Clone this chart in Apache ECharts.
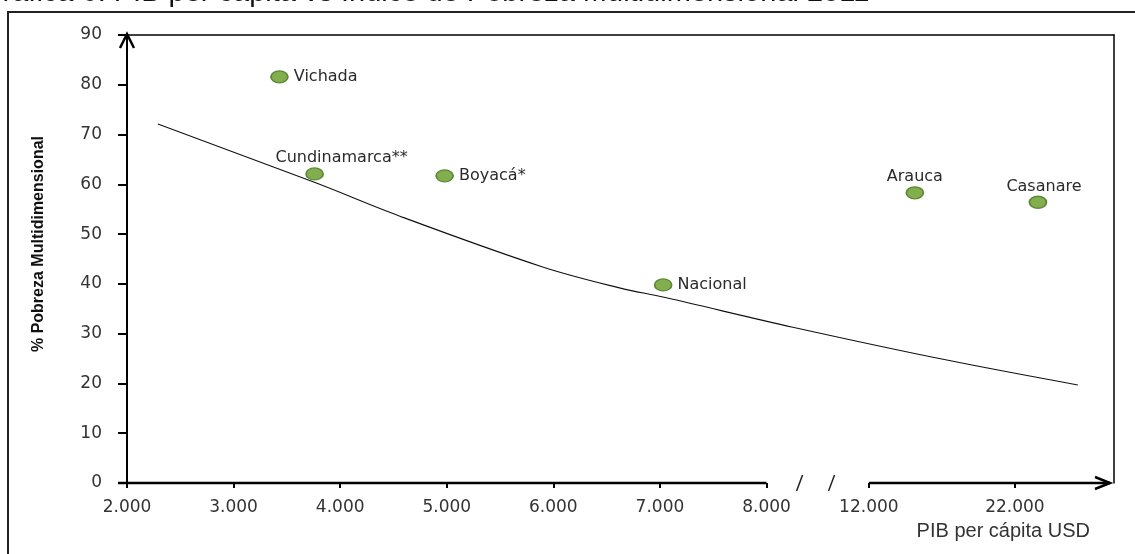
<!DOCTYPE html>
<html>
<head>
<meta charset="utf-8">
<script src="https://cdn.jsdelivr.net/npm/echarts@6/dist/echarts.min.js"></script>
<style>
html,body{margin:0;padding:0;background:#fff;}
#c{width:1135px;height:554px;}
</style>
</head>
<body>
<div id="c"></div>
<script>
// ---------- data ----------
const regions = ['Vichada', 'Cundinamarca**', 'Boyacá*', 'Nacional', 'Arauca', 'Casanare'];
const pibPerCapita = [3430, 3760, 4980, 7030, 15150, 23580];
const pobrezaMultidimensional = [81.6, 62.1, 61.7, 39.8, 58.3, 56.4];

const trendPib = [2290, 3770, 4560, 5900, 6620, 7040, 9030, 17340, 26310];
const trendPobreza = [72.1, 60.3, 53.6, 43.4, 39.2, 37.3, 31.3, 24.7, 19.7];

const xTickValues = [2000, 3000, 4000, 5000, 6000, 7000, 8000, 12000, 22000];
const xTickLabels = ['2.000', '3.000', '4.000', '5.000', '6.000', '7.000', '8.000', '12.000', '22.000'];
const yTickValues = [0, 10, 20, 30, 40, 50, 60, 70, 80, 90];

const titleText = 'Gráfica 6. PIB per cápita vs Índice de Pobreza Multidimensional 2011';
const xAxisTitle = 'PIB per cápita USD';
const yAxisTitle = '% Pobreza Multidimensional';

// ---------- broken-axis layout (axis units, not data) ----------
const xTickSlots = [0, 1, 2, 3, 4, 5, 6, 6.96, 8.33];
const xSlotMax = 9.26;
const breakMarkSlots = [6.31, 6.61];

// PIB value -> position on the broken axis (piecewise linear between ticks)
function toSlot(v) {
  const n = xTickValues.length;
  let i = 0;
  while (i < n - 2 && v > xTickValues[i + 1]) i++;
  const v0 = xTickValues[i], v1 = xTickValues[i + 1];
  const s0 = xTickSlots[i], s1 = xTickSlots[i + 1];
  return s0 + (v - v0) / (v1 - v0) * (s1 - s0);
}
function slotLabel(s) {
  for (let i = 0; i < xTickSlots.length; i++) {
    if (Math.abs(xTickSlots[i] - s) < 1e-6) return xTickLabels[i];
  }
  return '';
}

// label placement styles per point (kept apart from data)
const labelStyle = {
  'Vichada': { position: 'right' },
  'Cundinamarca**': { position: 'top', distance: 1, offset: [27, 0] },
  'Boyacá*': { position: 'right' },
  'Nacional': { position: 'right' },
  'Arauca': { position: 'top', distance: 1 },
  'Casanare': { position: 'top', distance: 1, offset: [6, 0] }
};

const tickFont = 'DejaVu Sans';
const chart = echarts.init(document.getElementById('c'), null, { renderer: 'canvas' });

const scatterData = regions.map((name, i) => ({
  name: name,
  value: [toSlot(pibPerCapita[i]), pobrezaMultidimensional[i]],
  label: labelStyle[name]
}));
const trendData = trendPib.map((p, i) => [toSlot(p), trendPobreza[i]]);

chart.setOption({
  animation: false,
  backgroundColor: '#fff',
  title: {
    text: titleText,
    left: -20,
    top: -22,
    padding: 0,
    textStyle: { fontFamily: 'Liberation Sans', fontSize: 29, fontWeight: 'normal', color: '#111' }
  },
  grid: { left: 127, right: 21, top: 35, bottom: 71, containLabel: false },
  xAxis: [{
    type: 'value',
    min: 0,
    max: xSlotMax,
    axisLine: { show: false },
    splitLine: { show: false },
    axisTick: {
      show: true,
      customValues: xTickSlots,
      length: 5,
      lineStyle: { color: '#000', width: 2 }
    },
    axisLabel: {
      customValues: xTickSlots,
      formatter: slotLabel,
      margin: 16,
      fontFamily: tickFont,
      fontSize: 17,
      color: '#333'
    },
    name: xAxisTitle,
    nameLocation: 'end',
    nameGap: -24,
    nameTextStyle: {
      align: 'right',
      verticalAlign: 'top',
      padding: [38, 0, 0, 0],
      fontFamily: 'Liberation Sans',
      fontSize: 20,
      color: '#333'
    }
  }, {
    type: 'value',
    position: 'top',
    min: 0,
    max: xSlotMax,
    axisLine: { show: true, onZero: false, lineStyle: { color: '#000', width: 1.5 } },
    axisTick: { show: false },
    axisLabel: { show: false },
    splitLine: { show: false }
  }],
  yAxis: [{
    type: 'value',
    min: yTickValues[0],
    max: yTickValues[yTickValues.length - 1],
    interval: 10,
    axisLine: { show: true, lineStyle: { color: '#000', width: 2 } },
    axisTick: { show: true, length: 9, lineStyle: { color: '#000', width: 2 } },
    axisLabel: { margin: 25, fontFamily: tickFont, fontSize: 17, color: '#333' },
    splitLine: { show: false },
    name: yAxisTitle,
    nameLocation: 'middle',
    nameGap: 80,
    nameTextStyle: {
      fontFamily: 'Liberation Sans',
      fontWeight: 'bold',
      fontSize: 16,
      color: '#111',
      padding: [0, 0, 0, 30]
    }
  }, {
    type: 'value',
    position: 'right',
    min: yTickValues[0],
    max: yTickValues[yTickValues.length - 1],
    interval: 10,
    axisLine: { show: true, onZero: false, lineStyle: { color: '#000', width: 1.5 } },
    axisTick: { show: false },
    axisLabel: { show: false },
    splitLine: { show: false }
  }],
  series: [{
    name: 'Tendencia',
    type: 'line',
    data: trendData,
    smooth: 0.35,
    showSymbol: false,
    silent: true,
    lineStyle: { color: '#111', width: 1.1 },
    z: 2
  }, {
    name: 'Departamentos',
    type: 'scatter',
    data: scatterData,
    symbol: 'circle',
    symbolSize: [17, 12],
    itemStyle: { color: '#84ae4e', borderColor: '#5b8a36', borderWidth: 1.5, opacity: 1 },
    label: {
      show: true,
      formatter: '{b}',
      fontFamily: tickFont,
      fontSize: 16,
      color: '#2a2a2a'
    },
    z: 3
  }]
});

// ---------- decorations: outer frame, broken x axis line, arrows ----------
function px(slot, val) { return chart.convertToPixel({ xAxisIndex: 0, yAxisIndex: 0 }, [slot, val]); }
const a0 = px(xTickSlots[0], 0);
const a6 = px(xTickSlots[6], 0);
const a7 = px(xTickSlots[7], 0);
const aEnd = px(xSlotMax, 0);
const yTop = px(0, yTickValues[yTickValues.length - 1]);
const tipX = aEnd[0] - 4;
const yy = a0[1];

const graphics = [
  { type: 'rect', silent: true, shape: { x: 8, y: 12, width: 1300, height: 800 },
    style: { fill: 'none', stroke: '#222', lineWidth: 2 }, z: 1 },
  { type: 'line', silent: true, shape: { x1: a0[0] - 9, y1: yy, x2: a6[0], y2: yy },
    style: { stroke: '#000', lineWidth: 2.5 }, z: 10 },
  { type: 'line', silent: true, shape: { x1: a7[0], y1: yy, x2: tipX, y2: yy },
    style: { stroke: '#000', lineWidth: 2.5 }, z: 10 },
  { type: 'polyline', silent: true, shape: { points: [[tipX - 15, yy - 6], [tipX, yy], [tipX - 15, yy + 6]] },
    style: { stroke: '#000', lineWidth: 2.5, fill: 'none' }, z: 10 },
  { type: 'polyline', silent: true, shape: { points: [[yTop[0] - 7, yTop[1] + 13], [yTop[0], yTop[1] - 1], [yTop[0] + 7, yTop[1] + 13]] },
    style: { stroke: '#000', lineWidth: 2.5, fill: 'none' }, z: 10 }
];
breakMarkSlots.forEach(s => {
  const p = px(s, 0);
  graphics.push({ type: 'line', silent: true,
    shape: { x1: p[0] - 3, y1: yy + 8, x2: p[0] + 3, y2: yy - 8 },
    style: { stroke: '#222', lineWidth: 1.5 }, z: 10 });
});
chart.setOption({ graphic: graphics });
</script>
</body>
</html>
